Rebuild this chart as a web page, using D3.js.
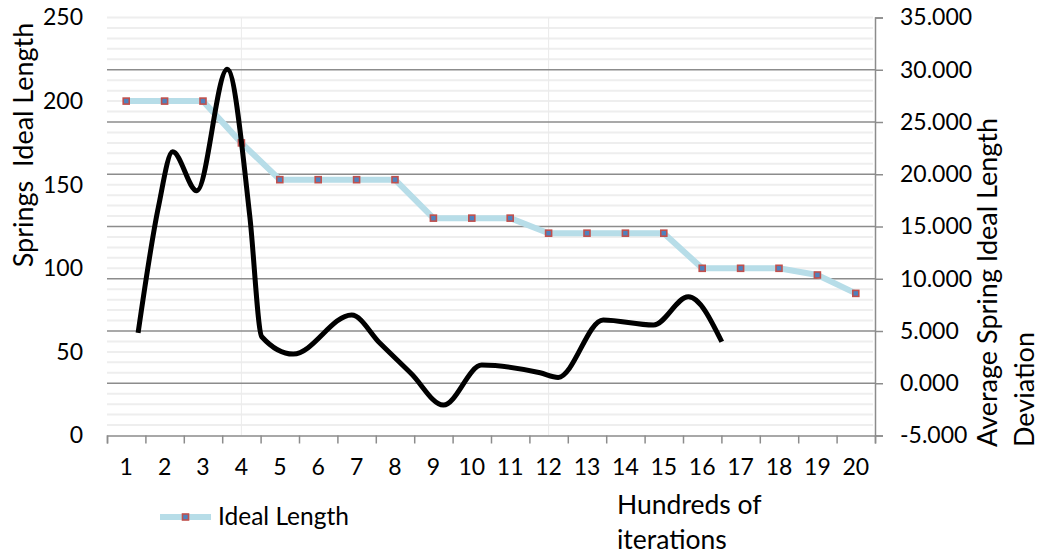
<!DOCTYPE html>
<html>
<head>
<meta charset="utf-8">
<script src="https://cdn.jsdelivr.net/npm/d3@7"></script>
<style>
  html, body { margin: 0; padding: 0; background: #fff; }
  svg { display: block; font-family: Lato, "Open Sans", sans-serif; }
</style>
</head>
<body>
<svg id="chart" width="1042" height="556"></svg>
<script>
// Hundreds of iterations (category labels)
const categories = ["1","2","3","4","5","6","7","8","9","10","11","12","13","14","15","16","17","18","19","20"];
// Springs ideal length per category (left axis)
const idealLength = [200, 200, 200, 175, 153, 153, 153, 153, 130, 130, 130, 121, 121, 121, 121, 100, 100, 100, 96, 85];
// Average spring ideal length deviation (right axis), sampled along the iteration axis
const devIter  = [1.31, 1.84, 2.21, 2.84, 3.63, 4.22, 4.53, 5.35, 6.87, 7.61, 8.42, 9.26, 10.26, 11.78, 12.25, 13.42, 14.73, 15.64, 16.51];
const devValue = [4.83, 16.89, 22.15, 18.42, 30.04, 15.93, 4.45, 2.79, 6.53, 3.82, 0.93, -2.09, 1.74, 1.00, 0.56, 6.05, 5.57, 8.28, 3.97];
// Axis tick values
const leftTicks  = [0, 50, 100, 150, 200, 250];
const rightTicks = [-5, 0, 5, 10, 15, 20, 25, 30, 35];
// Faint vertical reference lines (iteration positions)
const verticalRefs = [4, 12];

const svg = d3.select("#chart");
const plot = { left: 107, right: 875, top: 17.5, bottom: 435.5 };

const xBand = d3.scaleBand().domain(categories).range([plot.left, plot.right]).paddingInner(0).paddingOuter(0);
const xIter = d3.scaleLinear().domain([0.5, 20.5]).range([plot.left, plot.right]);
const yLeft = d3.scaleLinear().domain([0, 250]).range([plot.bottom, plot.top]);
const yRight = d3.scaleLinear().domain([-5, 35]).range([plot.bottom, plot.top]);

// Minor gridlines (every unit of the right axis)
const minor = d3.range(-4, 36).filter(v => v % 5 !== 0 || v === 35);
svg.append("g").selectAll("line").data(minor).join("line")
  .attr("x1", plot.left).attr("x2", plot.right - 2)
  .attr("y1", d => yRight(d)).attr("y2", d => yRight(d))
  .attr("stroke", "#eeeeee").attr("stroke-width", 2);

// Vertical reference lines
svg.append("g").selectAll("line").data(verticalRefs).join("line")
  .attr("x1", d => xIter(d)).attr("x2", d => xIter(d))
  .attr("y1", plot.top).attr("y2", plot.bottom)
  .attr("stroke", "#ebebeb").attr("stroke-width", 1);

// Major gridlines
const major = rightTicks.filter(v => v > -5 && v < 35);
svg.append("g").selectAll("line").data(major).join("line")
  .attr("x1", plot.left).attr("x2", plot.right)
  .attr("y1", d => yRight(d)).attr("y2", d => yRight(d))
  .attr("stroke", "#8c8c8c").attr("stroke-width", 1.5);

// Left axis (labels only)
const gL = svg.append("g").attr("transform", `translate(${plot.left},0)`)
  .call(d3.axisLeft(yLeft).tickValues(leftTicks).tickSize(0).tickPadding(24));
gL.select(".domain").remove();
gL.selectAll("text").attr("font-size", 23).attr("fill", "#000").attr("font-family", "Lato, sans-serif");

// Right axis
const gR = svg.append("g").attr("transform", `translate(${plot.right},0)`)
  .call(d3.axisRight(yRight).tickValues(rightTicks).tickSize(8).tickPadding(17).tickFormat(d => d.toFixed(3)));
gR.select(".domain").attr("stroke", "#8c8c8c").attr("stroke-width", 1.5);
gR.selectAll(".tick line").attr("stroke", "#8c8c8c").attr("stroke-width", 1.5);
gR.selectAll("text").attr("font-size", 23).attr("fill", "#000").attr("font-family", "Lato, sans-serif");

// Bottom axis: ticks at category boundaries
const boundaries = categories.map((c, i) => i + 0.5).concat([20.5]);
const gB = svg.append("g").attr("transform", `translate(0,${plot.bottom})`)
  .call(d3.axisBottom(xIter).tickValues(boundaries).tickSize(8).tickFormat(""));
gB.select(".domain").attr("stroke", "#8c8c8c").attr("stroke-width", 1.5);
gB.selectAll(".tick line").attr("stroke", "#8c8c8c").attr("stroke-width", 1.5);

// Category labels
svg.append("g").selectAll("text").data(categories).join("text")
  .attr("x", d => xBand(d) + xBand.bandwidth() / 2)
  .attr("y", 475)
  .attr("text-anchor", "middle")
  .attr("font-size", 23)
  .text(d => d);

// Ideal Length line
const idealPts = categories.map((c, i) => [xBand(c) + xBand.bandwidth() / 2, yLeft(idealLength[i])]);
svg.append("path")
  .attr("d", d3.line()(idealPts))
  .attr("fill", "none").attr("stroke", "#b7dde8").attr("stroke-width", 6)
  .attr("stroke-linejoin", "round");
svg.append("g").selectAll("rect").data(idealPts).join("rect")
  .attr("x", d => d[0] - 3).attr("y", d => d[1] - 3)
  .attr("width", 6).attr("height", 6)
  .attr("fill", "#4f81bd").attr("stroke", "#c0504d").attr("stroke-width", 1.6);

// Deviation curve
const devPts = devIter.map((v, i) => [xIter(v), yRight(devValue[i])]);
svg.append("path")
  .attr("d", d3.line().curve(d3.curveMonotoneX)(devPts))
  .attr("fill", "none").attr("stroke", "#000").attr("stroke-width", 5)
  .attr("stroke-linejoin", "round");

// Axis titles
svg.append("text")
  .attr("transform", "translate(33,145) rotate(-90)")
  .attr("text-anchor", "middle").attr("font-size", 27)
  .style("white-space", "pre")
  .text("Springs  Ideal Length");

const rt = svg.append("text")
  .attr("transform", "translate(997,447) rotate(-90)")
  .attr("text-anchor", "start").attr("font-size", 27);
rt.append("tspan").attr("x", 0).attr("y", 0).text("Average Spring Ideal Length");
rt.append("tspan").attr("x", 0).attr("y", 37).text("Deviation");

// x-axis title
const xt = svg.append("text").attr("font-size", 26.5);
xt.append("tspan").attr("x", 617).attr("y", 514).text("Hundreds of");
xt.append("tspan").attr("x", 617).attr("y", 549).text("iterations");

// Legend
const lg = svg.append("g");
lg.append("line").attr("x1", 160).attr("x2", 211).attr("y1", 517).attr("y2", 517)
  .attr("stroke", "#b7dde8").attr("stroke-width", 6);
lg.append("rect").attr("x", 182.5).attr("y", 514).attr("width", 6).attr("height", 6)
  .attr("fill", "#4f81bd").attr("stroke", "#c0504d").attr("stroke-width", 1.6);
lg.append("text").attr("x", 218).attr("y", 525).attr("font-size", 24.5).text("Ideal Length");
</script>
</body>
</html>
